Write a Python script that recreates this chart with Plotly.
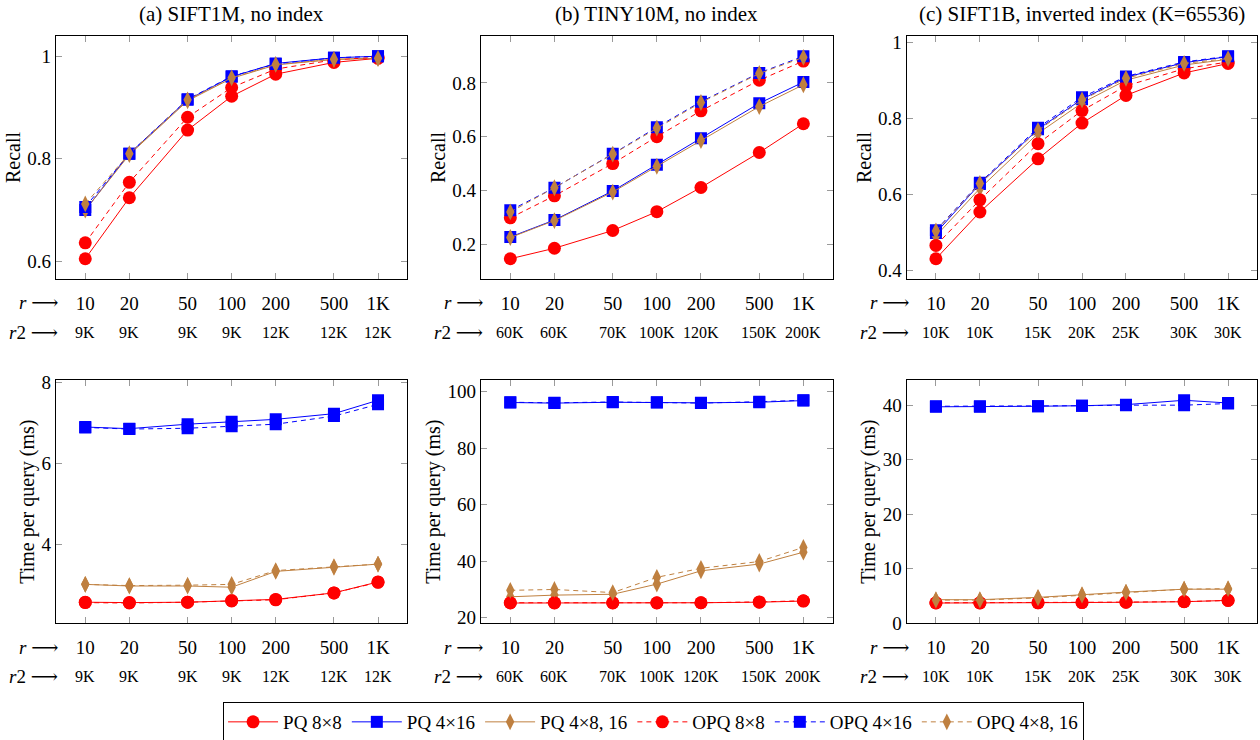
import numpy as np
import plotly.graph_objects as go
from plotly.subplots import make_subplots

# ---------------- data ----------------
r_vals = [10, 20, 50, 100, 200, 500, 1000]
r_labels = ['10', '20', '50', '100', '200', '500', '1K']
r2_labels_a = ['9K', '9K', '9K', '9K', '12K', '12K', '12K']
r2_labels_b = ['60K', '60K', '70K', '100K', '120K', '150K', '200K']
r2_labels_c = ['10K', '10K', '15K', '20K', '25K', '30K', '30K']

series_names = ['PQ 8×8', 'PQ 4×16', 'PQ 4×8, 16', 'OPQ 8×8', 'OPQ 4×16', 'OPQ 4×8, 16']

panel_titles = ['(a) SIFT1M, no index', '(b) TINY10M, no index',
                '(c) SIFT1B, inverted index (K=65536)']

# (a) SIFT1M recall
recall_a_pq8x8 = [0.605, 0.724, 0.856, 0.922, 0.965, 0.988, 0.996]
recall_a_pq4x16 = [0.700, 0.810, 0.915, 0.960, 0.986, 0.997, 1.000]
recall_a_pq4x8_16 = [0.700, 0.808, 0.913, 0.957, 0.983, 0.994, 0.996]
recall_a_opq8x8 = [0.636, 0.754, 0.881, 0.939, 0.975, 0.993, 0.998]
recall_a_opq4x16 = [0.706, 0.810, 0.916, 0.961, 0.985, 0.997, 1.000]
recall_a_opq4x8_16 = [0.712, 0.810, 0.915, 0.958, 0.984, 0.994, 0.996]

# (b) TINY10M recall
recall_b_pq8x8 = [0.146, 0.185, 0.251, 0.321, 0.411, 0.541, 0.648]
recall_b_pq4x16 = [0.227, 0.290, 0.398, 0.496, 0.594, 0.724, 0.803]
recall_b_pq4x8_16 = [0.225, 0.288, 0.394, 0.490, 0.585, 0.712, 0.793]
recall_b_opq8x8 = [0.298, 0.380, 0.500, 0.600, 0.696, 0.810, 0.881]
recall_b_opq4x16 = [0.326, 0.410, 0.536, 0.635, 0.730, 0.837, 0.899]
recall_b_opq4x8_16 = [0.320, 0.410, 0.535, 0.632, 0.727, 0.835, 0.895]

# (c) SIFT1B recall
recall_c_pq8x8 = [0.430, 0.553, 0.693, 0.787, 0.860, 0.919, 0.944]
recall_c_pq4x16 = [0.498, 0.627, 0.771, 0.850, 0.908, 0.946, 0.962]
recall_c_pq4x8_16 = [0.490, 0.615, 0.760, 0.840, 0.900, 0.940, 0.955]
recall_c_opq8x8 = [0.465, 0.585, 0.733, 0.820, 0.885, 0.930, 0.948]
recall_c_opq4x16 = [0.505, 0.630, 0.775, 0.855, 0.910, 0.948, 0.963]
recall_c_opq4x8_16 = [0.503, 0.628, 0.768, 0.848, 0.905, 0.944, 0.957]

# (a) SIFT1M time (ms)
time_a_pq8x8 = [2.57, 2.56, 2.57, 2.61, 2.64, 2.80, 3.07]
time_a_pq4x16 = [6.89, 6.85, 6.96, 7.02, 7.08, 7.22, 7.55]
time_a_pq4x8_16 = [3.01, 2.97, 2.97, 2.94, 3.33, 3.43, 3.51]
time_a_opq8x8 = [2.56, 2.55, 2.57, 2.60, 2.63, 2.80, 3.06]
time_a_opq4x16 = [6.88, 6.84, 6.86, 6.91, 6.96, 7.16, 7.45]
time_a_opq4x8_16 = [3.01, 2.98, 2.99, 3.01, 3.35, 3.45, 3.51]

# (b) TINY10M time (ms)
time_b_pq8x8 = [25.2, 25.2, 25.2, 25.2, 25.3, 25.5, 25.9]
time_b_pq4x16 = [96.2, 96.0, 96.3, 96.2, 96.1, 96.3, 96.9]
time_b_pq4x8_16 = [27.4, 28.0, 28.3, 31.9, 36.6, 39.0, 43.2]
time_b_opq8x8 = [25.3, 25.3, 25.3, 25.3, 25.3, 25.6, 26.0]
time_b_opq4x16 = [96.3, 96.1, 96.4, 96.3, 96.0, 96.5, 97.0]
time_b_opq4x8_16 = [29.7, 30.0, 28.9, 34.3, 37.5, 39.9, 44.9]

# (c) SIFT1B time (ms)
time_c_pq8x8 = [3.66, 3.66, 3.70, 3.75, 3.80, 3.90, 4.15]
time_c_pq4x16 = [39.7, 39.7, 39.8, 39.9, 40.1, 40.9, 40.4]
time_c_pq4x8_16 = [4.27, 4.27, 4.70, 5.20, 5.67, 6.20, 6.20]
time_c_opq8x8 = [3.70, 3.70, 3.72, 3.76, 3.82, 3.92, 4.12]
time_c_opq4x16 = [39.8, 39.8, 39.8, 39.9, 40.0, 40.0, 40.3]
time_c_opq4x8_16 = [4.20, 4.20, 4.60, 5.10, 5.60, 6.20, 6.30]

# ---------------- styling ----------------
FONT = 'Liberation Serif, DejaVu Serif, serif'
RED, BLUE, BROWN = '#ff0000', '#0000ff', '#bf8040'
colors = [RED, BLUE, BROWN, RED, BLUE, BROWN]
symbols = ['circle', 'square', 'diamond-tall', 'circle', 'square', 'diamond-tall']
msizes = [13, 12, 12, 13, 12, 12]
dashes = ['solid', 'solid', 'solid', '5px,4px', '5px,4px', '5px,4px']

panels = [
    (1, 1, [recall_a_pq8x8, recall_a_pq4x16, recall_a_pq4x8_16, recall_a_opq8x8, recall_a_opq4x16, recall_a_opq4x8_16], r2_labels_a, 'Recall', [0.6, 0.8, 1.0], ['0.6', '0.8', '1']),
    (1, 2, [recall_b_pq8x8, recall_b_pq4x16, recall_b_pq4x8_16, recall_b_opq8x8, recall_b_opq4x16, recall_b_opq4x8_16], r2_labels_b, 'Recall', [0.2, 0.4, 0.6, 0.8], ['0.2', '0.4', '0.6', '0.8']),
    (1, 3, [recall_c_pq8x8, recall_c_pq4x16, recall_c_pq4x8_16, recall_c_opq8x8, recall_c_opq4x16, recall_c_opq4x8_16], r2_labels_c, 'Recall', [0.4, 0.6, 0.8, 1.0], ['0.4', '0.6', '0.8', '1']),
    (2, 1, [time_a_pq8x8, time_a_pq4x16, time_a_pq4x8_16, time_a_opq8x8, time_a_opq4x16, time_a_opq4x8_16], r2_labels_a, 'Time per query (ms)', [4, 6, 8], ['4', '6', '8']),
    (2, 2, [time_b_pq8x8, time_b_pq4x16, time_b_pq4x8_16, time_b_opq8x8, time_b_opq4x16, time_b_opq4x8_16], r2_labels_b, 'Time per query (ms)', [20, 40, 60, 80, 100], ['20', '40', '60', '80', '100']),
    (2, 3, [time_c_pq8x8, time_c_pq4x16, time_c_pq4x8_16, time_c_opq8x8, time_c_opq4x16, time_c_opq4x8_16], r2_labels_c, 'Time per query (ms)', [0, 10, 20, 30, 40], ['0', '10', '20', '30', '40']),
]

W, H = 1260, 740
x_dom_px = [(56, 407.3), (481, 832.7), (906.7, 1257.3)]
y_dom_px = [(36, 279), (380, 623.3)]

fig = make_subplots(rows=2, cols=3)

annotations = []
for idx, (row, col, series, r2lab, ytitle, ytv, ytt) in enumerate(panels):
    for k, ys in enumerate(series):
        fig.add_trace(go.Scatter(
            x=r_vals, y=ys, mode='lines+markers', name=series_names[k],
            legendgroup=series_names[k], showlegend=(idx == 0),
            line=dict(color=colors[k], width=1, dash=dashes[k]),
            marker=dict(symbol=symbols[k], size=msizes[k], color=colors[k], line=dict(width=0)),
        ), row=row, col=col)
    allv = np.concatenate([np.array(s) for s in series])
    lo, hi = allv.min(), allv.max()
    pad = 0.1 * (hi - lo)
    n = idx + 1
    xs = 'xaxis' if n == 1 else f'xaxis{n}'
    ys_ = 'yaxis' if n == 1 else f'yaxis{n}'
    xd = x_dom_px[col - 1]
    yd = y_dom_px[row - 1]
    fig.layout[xs].update(
        domain=[xd[0] / W, xd[1] / W], type='log', range=[0.8, 3.2],
        tickvals=r_vals, ticktext=r_labels, ticks='inside', ticklen=6, tickwidth=1,
        tickcolor='#9a9a9a', showline=True, linecolor='black', linewidth=1.3, mirror='ticks',
        showgrid=False, zeroline=False, tickfont=dict(family=FONT, size=19, color='black'),
        ticklabelstandoff=7, automargin=False)
    fig.layout[ys_].update(
        domain=[1 - yd[1] / H, 1 - yd[0] / H], range=[lo - pad, hi + pad],
        tickvals=ytv, ticktext=ytt, ticks='inside', ticklen=6, tickwidth=1,
        tickcolor='#9a9a9a', showline=True, linecolor='black', linewidth=1.3, mirror='ticks',
        showgrid=False, zeroline=False, tickfont=dict(family=FONT, size=19, color='black'),
        title=dict(text=ytitle, font=dict(family=FONT, size=20, color='black'), standoff=1),
        automargin=False)
    xref = 'x' if n == 1 else f'x{n}'
    yref = 'y domain' if n == 1 else f'y{n} domain'
    for rv, lab in zip(r_vals, r2lab):
        annotations.append(dict(x=np.log10(rv), y=0, xref=xref, yref=yref, text=lab,
                                showarrow=False, yanchor='middle', xanchor='center',
                                yshift=-53, font=dict(family=FONT, size=16, color='black')))
    # row labels
    xr = (xd[0] + 4) / W
    annotations.append(dict(x=xr, y=1 - (yd[1] + 24) / H, xref='paper', yref='paper',
                            text='<i>r</i> ⟶', showarrow=False, xanchor='right', yanchor='middle',
                            font=dict(family=FONT, size=19, color='black')))
    annotations.append(dict(x=xr, y=1 - (yd[1] + 53) / H, xref='paper', yref='paper',
                            text='<i>r</i>2 ⟶', showarrow=False, xanchor='right', yanchor='middle',
                            font=dict(family=FONT, size=19, color='black')))
    if row == 1:
        annotations.append(dict(x=(xd[0] + xd[1]) / 2 / W, y=1 - 14 / H, xref='paper', yref='paper',
                                text=panel_titles[col - 1], showarrow=False, xanchor='center',
                                yanchor='middle', font=dict(family=FONT, size=21, color='black')))

fig.update_layout(
    width=W, height=H, margin=dict(l=0, r=0, t=0, b=0, autoexpand=False),
    paper_bgcolor='white', plot_bgcolor='white',
    font=dict(family=FONT, size=19, color='black'),
    annotations=annotations,
    legend=dict(orientation='h', x=0.5187, y=1 - 702 / H, xanchor='center', yanchor='top',
                bordercolor='black', borderwidth=1, font=dict(family=FONT, size=19, color='black'),
                itemwidth=50, tracegroupgap=0),
)

fig.write_html('out.html', config={'displayModeBar': False},
               post_script="document.body.style.margin='0px';")
